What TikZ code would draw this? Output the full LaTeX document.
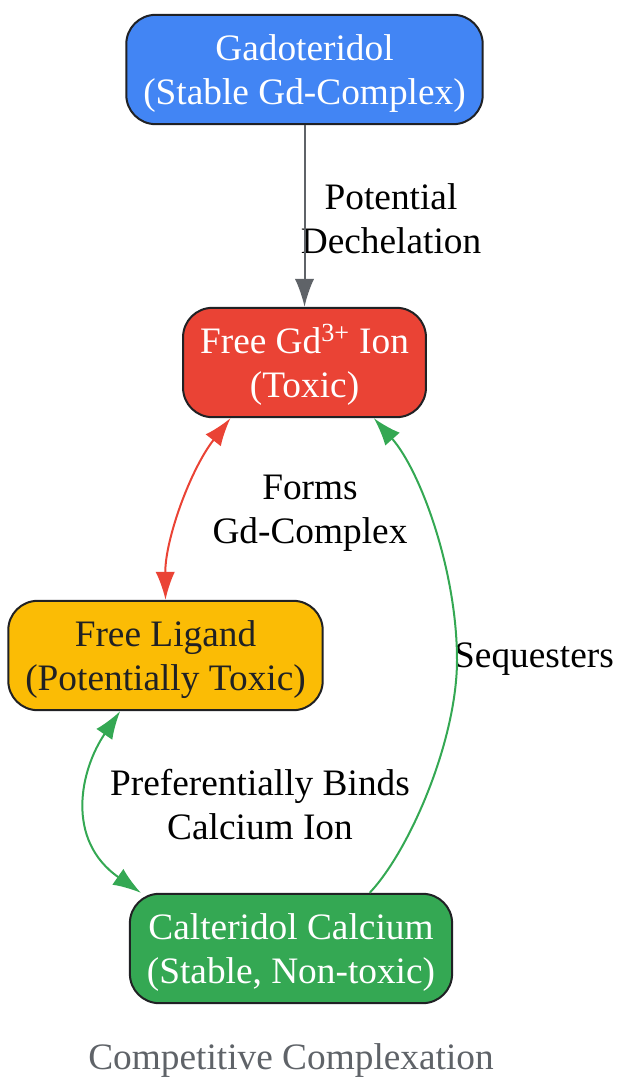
\documentclass[tikz,border=0pt]{standalone}
\usepackage{fontspec}
\setmainfont{Liberation Serif}
\usetikzlibrary{arrows.meta}
\definecolor{gblue}{HTML}{4285F4}
\definecolor{gred}{HTML}{EA4335}
\definecolor{gyellow}{HTML}{FBBC05}
\definecolor{ggreen}{HTML}{34A853}
\definecolor{ggray}{HTML}{5F6368}
\definecolor{darktext}{HTML}{202124}
\newcommand{\topstrut}{\rule{0pt}{26pt}}
\tikzstyle{grn}=[x=0.75pt, y=-0.75pt, font=\fontsize{28}{33}\selectfont,
                >={Latex[length=21pt,width=14.5pt]}, line width=1.5pt]
\tikzstyle{box}=[rounded corners=22pt, draw=darktext, line width=1.5pt,
                align=center, inner xsep=12.75pt, minimum height=82pt, text=white]
\tikzstyle{elabel}=[align=center, text=black, inner sep=0]

\begin{document}
\begin{tikzpicture}[grn]
\useasboundingbox (0,0) rectangle (618,1078);
\node[box, fill=gblue] (gado) at (304.5,69.5) {\topstrut Gadoteridol\\(Stable Gd-Complex)};
\node[box, fill=gred] (gdion) at (304.5,362.5) {\topstrut Free Gd\textsuperscript{3+} Ion\\(Toxic)};
\node[box, fill=gyellow, text=darktext] (ligand) at (165.5,655.5) {\topstrut Free Ligand\\(Potentially Toxic)};
\node[box, fill=ggreen] (calt) at (291,948.5) {\topstrut Calteridol Calcium\\(Stable, Non-toxic)};
% edge labels
\node[elabel] (dechel) at (391,216) {\strut Potential\\Dechelation};
\node[elabel] (forms) at (310,510) {\strut Forms\\Gd-Complex};
\node[elabel] (binds) at (260,802) {\strut Preferentially Binds\\Calcium Ion};
\node[elabel] (seq) at (534,659) {Sequesters};
\node[text=ggray] (caption) at (291,1061) {Competitive Complexation};
\path[->]
  (gado) edge[ggray] (gdion);
\draw[<->, gred] ([xshift=-55.5pt]gdion.south) .. controls (190,470) and (165,540) .. (ligand.north);
\draw[<->, ggreen] ([xshift=-34pt]ligand.south) .. controls (80,770) and (65,840) .. ([xshift=9pt]calt.north west);
\draw[->, ggreen] ([xshift=59pt]calt.north) .. controls (410,850) and (457,740) .. (457,660)
  .. controls (457,570) and (420,470) .. ([xshift=52pt]gdion.south);
\end{tikzpicture}
\end{document}
